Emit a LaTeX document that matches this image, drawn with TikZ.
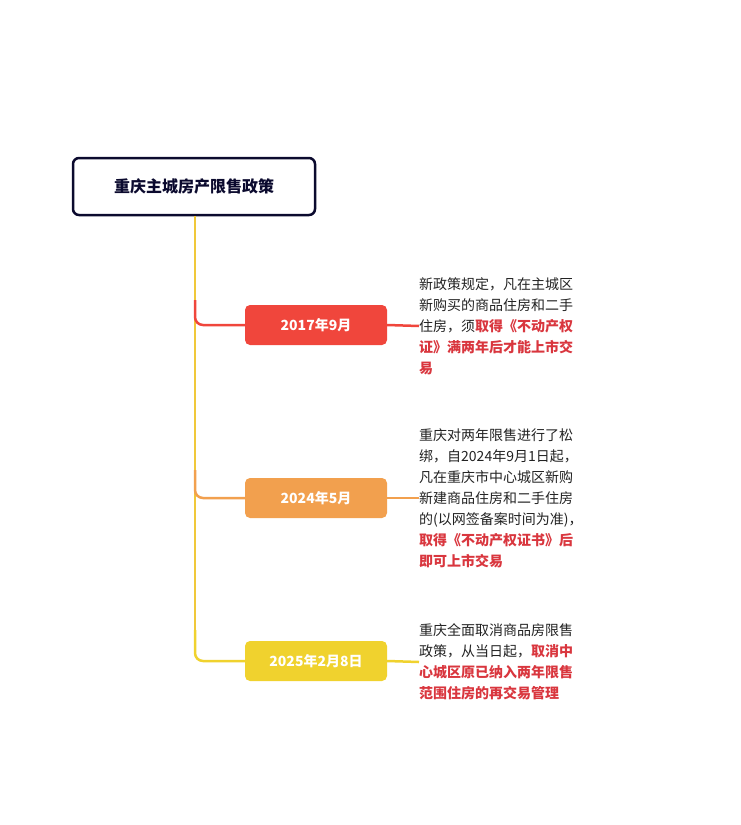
\documentclass[tikz,border=0pt]{standalone}
\usepackage{fontspec}
\setmainfont{Noto Sans CJK SC}
\definecolor{rootline}{HTML}{0B0A2E}
\definecolor{redc}{HTML}{F0463C}
\definecolor{orangec}{HTML}{F2A04E}
\definecolor{yellowc}{HTML}{F0D22E}
\definecolor{trunkc}{HTML}{F0C83A}
\definecolor{hl}{HTML}{D9363E}
\definecolor{txt}{HTML}{222222}
\newcommand{\hi}[1]{\textcolor{hl}{\bfseries #1}}
\begin{document}
\begin{tikzpicture}[x=1pt,y=-1pt,
    root/.style={rectangle, draw=rootline, line width=2.5pt, rounded corners=6pt, minimum width=242pt, minimum height=57pt, font=\fontsize{16}{20}\selectfont\bfseries, text=rootline},
    date/.style={rectangle, rounded corners=5pt, minimum width=142pt, minimum height=40pt, text=white, font=\fontsize{14}{17}\selectfont\bfseries},
    desc/.style={anchor=west, align=left, inner sep=0pt, text=txt, font=\fontsize{14}{21}\selectfont},
    branch/.style={line width=2.5pt, rounded corners=8pt}
  ]
  \useasboundingbox (0,0) rectangle (741,825);
  % Root
  \node[root] (root) at (194,186.5) {重庆主城房产限售政策};
  \coordinate (trunkend) at (195,652);

  % Dates
  \node[date, fill=redc] (d1) at (316,325) {2017年9月};
  \node[date, fill=orangec] (d2) at (316,498) {2024年5月};
  \node[date, fill=yellowc] (d3) at (316,661) {2025年2月8日};

  % Descriptions
  \node[desc] (t1) at (419,326) {新政策规定，凡在主城区\\新购买的商品住房和二手\\住房，须\hi{取得《不动产权}\\\hi{证》满两年后才能上市交}\\\hi{易}};
  \node[desc] (t2) at (419,498) {重庆对两年限售进行了松\\绑，自2024年9月1日起，\\凡在重庆市中心城区新购\\新建商品住房和二手住房\\的(以网签备案时间为准)，\\\hi{取得《不动产权证书》后}\\\hi{即可上市交易}};
  \node[desc] (t3) at (419,662) {重庆全面取消商品房限售\\政策，从当日起，\hi{取消中}\\\hi{心城区原已纳入两年限售}\\\hi{范围住房的再交易管理}};

  % Connectors
  \draw[trunkc, line width=2.5pt] (root.south -| trunkend) -- (195,640);
  \draw[branch, redc] (195,300) |- (d1.west);
  \draw[branch, orangec] (195,470) |- (d2.west);
  \draw[branch, yellowc] (195,630) |- (d3.west);
  \draw[redc, line width=2.5pt] (d1.east) -- (t1.west);
  \draw[orangec, line width=2.5pt] (d2.east) -- (t2.west);
  \draw[yellowc, line width=2.5pt] (d3.east) -- (t3.west);
\end{tikzpicture}
\end{document}
